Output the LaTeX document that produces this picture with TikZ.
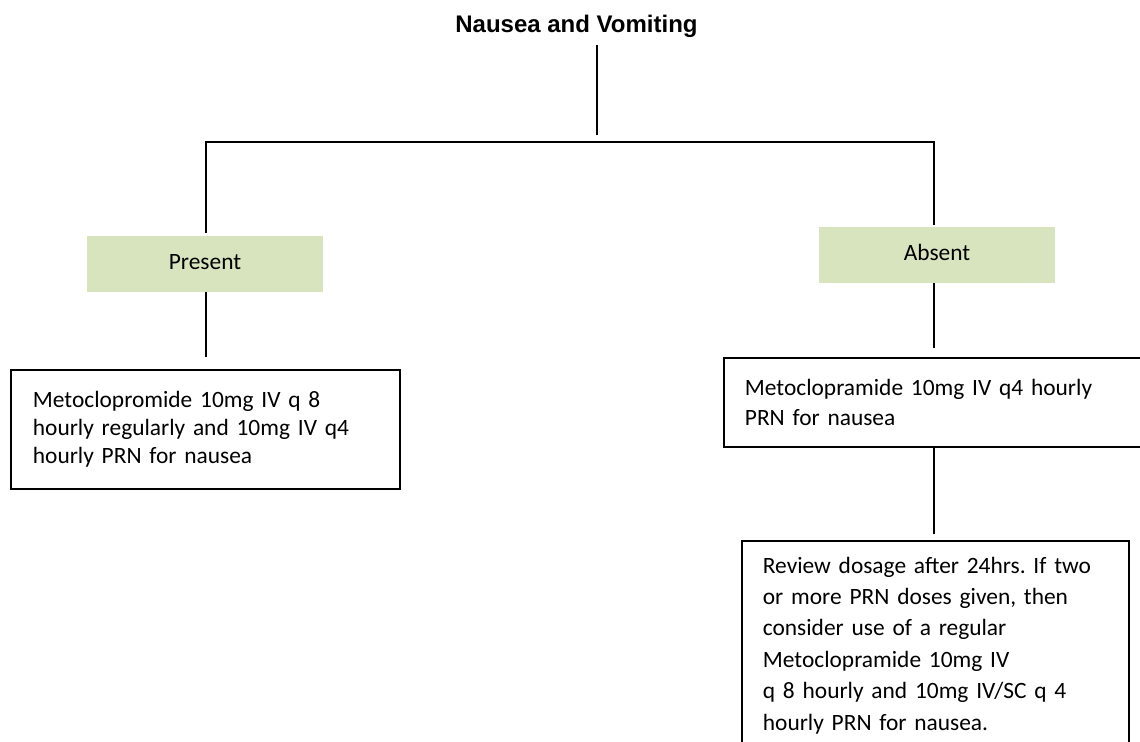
\documentclass[tikz,border=0pt]{standalone}
\usepackage{fontspec}
\setmainfont{Carlito}
\newfontfamily\titlefont{Liberation Sans}
\definecolor{flowGreen}{RGB}{215,228,189}
\frenchspacing

\begin{document}
\begin{tikzpicture}[
  x=0.5pt, y=-0.5pt,
  link/.style={
    draw,
    line width=0.9pt
  },
  choice/.style={
    fill=flowGreen,
    minimum width=118pt,
    minimum height=28pt,
    inner sep=0pt,
    text depth=0.25em,
    font=\fontsize{11.7}{13}\selectfont
  },
  advice/.style={
    draw,
    line width=0.9pt,
    anchor=north west,
    align=left,
    inner xsep=10.5pt,
    inner ysep=0pt
  }
]
  \useasboundingbox (0,0) rectangle (1140,742);
  \clip (0,0) rectangle (1140,742);
  \node[anchor=base,font=\titlefont\bfseries\fontsize{12}{14}\selectfont] (title) at (576.5,33)
    {Nausea and Vomiting};
  \coordinate (drop) at (597,45);
  \coordinate (forkL) at (206,142);
  \coordinate (forkR) at (934,142);
  \node[choice] (present) at (205,264) {Present};
  \node[choice] (absent) at (937,255) {Absent};
  \node[advice,inner xsep=11pt,text width=172.5pt,minimum height=59.5pt,
    font=\fontsize{11.7}{14}\selectfont] (regular) at (10,369)
    {Metoclopromide 10mg IV q 8\\hourly regularly and 10mg IV q4\\hourly PRN for nausea};
  \node[advice,text width=192.5pt,minimum height=44.5pt,
    font=\fontsize{11.7}{15}\selectfont] (prn) at (723,357)
    {Metoclopramide 10mg IV q4 hourly\\PRN for nausea};
  \node[advice,text width=172.5pt,inner ysep=8pt,
    font=\fontsize{11.7}{15.7}\selectfont] (review) at (741,540)
    {Review dosage after 24hrs. If two\\or more PRN doses given, then\\consider use of a regular\\Metoclopramide 10mg IV\\q 8 hourly and 10mg IV/SC q 4\\hourly PRN for nausea.};
  \draw[link,shorten >=3.5pt] (drop) -- (drop |- forkL);
  \draw[link,shorten <=1.5pt,shorten >=1pt] (forkL |- present.north) -- (forkL) -- (forkR) -- (forkR |- absent.north);
  \draw[link,shorten >=6pt] (forkL |- present.south) -- (forkL |- regular.north);
  \draw[link,shorten >=4.5pt] (forkR |- absent.south) -- (forkR |- prn.north);
  \draw[link,shorten >=3pt] (forkR |- prn.south) -- (forkR |- review.north);
\end{tikzpicture}
\end{document}
